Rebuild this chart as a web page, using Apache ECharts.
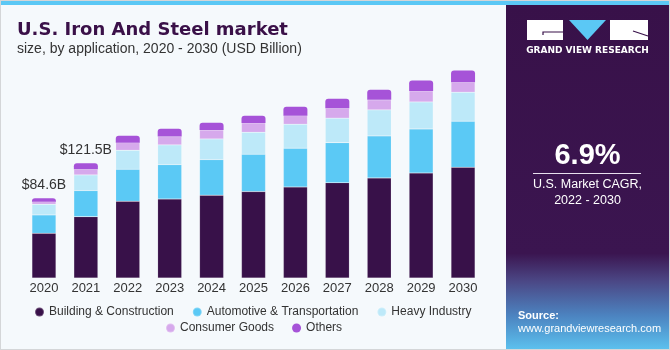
<!DOCTYPE html>
<html>
<head>
<meta charset="utf-8">
<script src="https://cdn.jsdelivr.net/npm/echarts@6/dist/echarts.min.js"></script>
<style>
  html, body { margin: 0; padding: 0; background: #f5f9fc; }
  #chart { width: 670px; height: 350px; }
</style>
</head>
<body>
<div id="chart"></div>
<script>
var years = ['2020', '2021', '2022', '2023', '2024', '2025', '2026', '2027', '2028', '2029', '2030'];
var building = [47.4, 65.0, 81.3, 83.7, 87.7, 91.5, 96.5, 101.0, 106.0, 111.3, 117.3];
var automotive = [19.4, 27.6, 33.9, 36.4, 37.7, 39.6, 41.0, 42.4, 44.5, 46.6, 48.8];
var heavy = [11.3, 16.6, 20.1, 20.9, 21.9, 23.3, 25.4, 25.9, 27.6, 28.6, 30.7];
var consumer = [2.8, 6.0, 8.1, 8.8, 9.5, 9.9, 9.1, 10.6, 10.6, 11.7, 10.6];
var others = [3.7, 6.3, 7.4, 8.2, 7.7, 7.7, 9.5, 9.9, 10.6, 10.9, 12.4];
var totalLabels = ['$84.6B', '$121.5B', '', '', '', '', '', '', '', '', ''];

var font = 'Liberation Sans, Arial, sans-serif';
var heavyFont = 'DejaVu Sans, Liberation Sans, sans-serif';
var chart = echarts.init(document.getElementById('chart'));

function seg(name, data, color, extra) {
    var s = {
        name: name,
        type: 'bar',
        stack: 'total',
        barWidth: 24,
        data: data,
        itemStyle: { color: color, borderColor: 'rgba(255,255,255,0.25)', borderWidth: 0.5 }
    };
    return Object.assign(s, extra || {});
}

var option = {
    backgroundColor: '#f5f9fc',
    textStyle: { fontFamily: font },
    title: {
        text: 'U.S. Iron And Steel market',
        subtext: 'size, by application, 2020 - 2030 (USD Billion)',
        left: 12,
        top: 14,
        itemGap: 0,
        textStyle: { fontFamily: heavyFont, fontSize: 18, fontWeight: 'bold', color: '#3a1048', lineHeight: 22 },
        subtextStyle: { fontFamily: font, fontSize: 14, color: '#333', lineHeight: 16 }
    },
    grid: { left: 23, right: 186, top: 42, bottom: 72 },
    xAxis: {
        type: 'category',
        data: years,
        axisLine: { show: false },
        axisTick: { show: false },
        axisLabel: { color: '#333', fontSize: 13, margin: 4, fontFamily: font }
    },
    yAxis: { type: 'value', min: 0, max: 250, show: false },
    legend: [{
        data: ['Building & Construction', 'Automotive & Transportation', 'Heavy Industry'],
        left: 34, top: 306, padding: 0, itemGap: 18,
        icon: 'circle', itemWidth: 9, itemHeight: 9,
        textStyle: { color: '#333', fontSize: 12, fontFamily: font }
    }, {
        data: ['Consumer Goods', 'Others'],
        left: 165, top: 322, padding: 0, itemGap: 18,
        icon: 'circle', itemWidth: 9, itemHeight: 9,
        textStyle: { color: '#333', fontSize: 12, fontFamily: font }
    }],
    series: [
        seg('Building & Construction', building, '#381149'),
        seg('Automotive & Transportation', automotive, '#5bc9f5'),
        seg('Heavy Industry', heavy, '#bde9f9'),
        seg('Consumer Goods', consumer, '#d6a9ec'),
        seg('Others', others, '#a653d8', {
            itemStyle: { color: '#a653d8', borderRadius: [3, 3, 0, 0] },
            label: {
                show: true,
                position: 'top',
                distance: 6,
                color: '#333',
                fontSize: 14,
                fontFamily: font,
                formatter: function (p) { return totalLabels[p.dataIndex]; }
            }
        })
    ],
    graphic: [
        { type: 'rect', shape: { x: 0, y: 0, width: 670, height: 5 }, style: { fill: '#5bc8f5' } },
        {
            type: 'rect', shape: { x: 506, y: 5, width: 164, height: 345 },
            style: {
                fill: new echarts.graphic.LinearGradient(0, 0, 0, 1, [
                    { offset: 0, color: '#381149' },
                    { offset: 0.72, color: '#3b1550' },
                    { offset: 0.8, color: '#4b4785' },
                    { offset: 0.9, color: '#4c83c0' },
                    { offset: 1, color: '#5cc2ef' }
                ])
            }
        },
        { type: 'rect', shape: { x: 527, y: 20, width: 36, height: 20 }, style: { fill: '#fff' } },
        { type: 'polyline', shape: { points: [[543, 35], [543, 32], [563, 32]] }, style: { stroke: '#381149', lineWidth: 1.2, fill: null } },
        { type: 'polygon', shape: { points: [[569, 20], [606, 20], [587.5, 40]] }, style: { fill: '#5bc8f5' } },
        { type: 'rect', shape: { x: 610, y: 20, width: 38, height: 20 }, style: { fill: '#fff' } },
        { type: 'line', shape: { x1: 633, y1: 31, x2: 648, y2: 36 }, style: { stroke: '#381149', lineWidth: 1.2 } },
        { type: 'text', style: { x: 587.5, y: 51, text: 'GRAND VIEW RESEARCH', fill: '#fff', font: 'bold 9px ' + heavyFont, textAlign: 'center', textVerticalAlign: 'middle' } },
        { type: 'text', style: { x: 587.5, y: 156, text: '6.9%', fill: '#fff', font: 'bold 29px ' + font, textAlign: 'center', textVerticalAlign: 'middle' } },
        { type: 'line', shape: { x1: 533, y1: 173.5, x2: 641, y2: 173.5 }, style: { stroke: '#e8e0ee', lineWidth: 1 } },
        { type: 'text', style: { x: 587.5, y: 185, text: 'U.S. Market CAGR,', fill: '#fff', font: '12.5px ' + font, textAlign: 'center', textVerticalAlign: 'middle' } },
        { type: 'text', style: { x: 587.5, y: 201, text: '2022 - 2030', fill: '#fff', font: '12.5px ' + font, textAlign: 'center', textVerticalAlign: 'middle' } },
        { type: 'text', style: { x: 518, y: 316, text: 'Source:', fill: '#fff', font: 'bold 11px ' + font, textVerticalAlign: 'middle' } },
        { type: 'text', style: { x: 518, y: 329, text: 'www.grandviewresearch.com', fill: '#fff', font: '11px ' + font, textVerticalAlign: 'middle' } },
        { type: 'rect', shape: { x: 0, y: 0, width: 670, height: 350 }, style: { fill: 'none', stroke: '#d4d6d8', lineWidth: 2 }, silent: true }
    ]
};

chart.setOption(option);
</script>
</body>
</html>
